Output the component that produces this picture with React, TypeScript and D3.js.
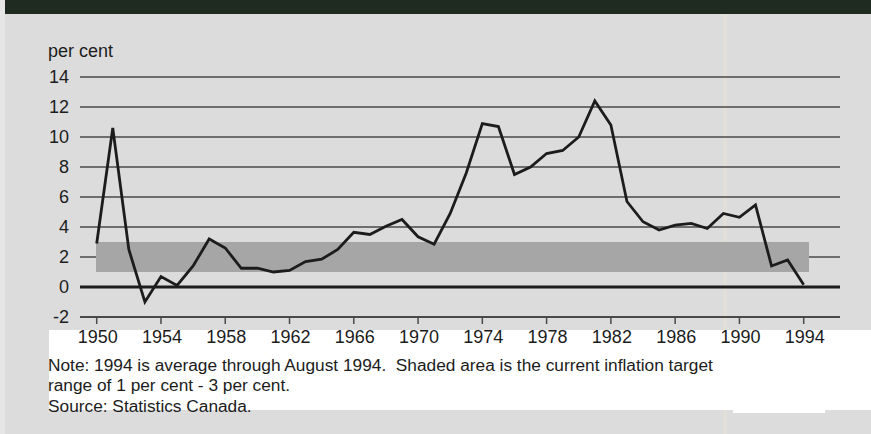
import React from "react";
import * as d3 from "d3";

const years = [
  1950, 1951, 1952, 1953, 1954, 1955, 1956, 1957, 1958, 1959, 1960, 1961,
  1962, 1963, 1964, 1965, 1966, 1967, 1968, 1969, 1970, 1971, 1972, 1973,
  1974, 1975, 1976, 1977, 1978, 1979, 1980, 1981, 1982, 1983, 1984, 1985,
  1986, 1987, 1988, 1989, 1990, 1991, 1992, 1993, 1994,
];
const inflation = [
  2.9, 10.6, 2.5, -1.0, 0.7, 0.1, 1.4, 3.2, 2.6, 1.25, 1.25, 1.0,
  1.1, 1.7, 1.85, 2.5, 3.65, 3.5, 4.05, 4.5, 3.35, 2.85, 4.9, 7.6,
  10.9, 10.7, 7.5, 8.0, 8.9, 9.1, 10.0, 12.4, 10.8, 5.7, 4.35, 3.8,
  4.13, 4.24, 3.9, 4.9, 4.65, 5.47, 1.4, 1.8, 0.15,
];
const yTicks = [-2, 0, 2, 4, 6, 8, 10, 12, 14];
const xTicks = [1950, 1954, 1958, 1962, 1966, 1970, 1974, 1978, 1982, 1986, 1990, 1994];
const targetRange = [1, 3];
const unitLabel = "per cent";
const noteLines = [
  "Note: 1994 is average through August 1994.  Shaded area is the current inflation target",
  "range of 1 per cent - 3 per cent.",
  "Source: Statistics Canada.",
];

const W = 871;
const H = 434;
const FONT = "'Liberation Sans', Arial, Helvetica, sans-serif";
const INK = "#1c1c1c";

export default function App() {
  const x = d3.scaleLinear().domain([1950, 1994]).range([96.7, 803.7]);
  const y = d3.scaleLinear().domain([-2, 14]).range([317, 77]);
  const gridX0 = 80;
  const gridX1 = 840;

  const line = d3
    .line<number>()
    .x((_, i) => x(years[i]))
    .y((d) => y(d));

  return (
    <div style={{ position: "absolute", left: 0, top: 0 }}>
      <svg width={W} height={H} style={{ display: "block" }} fontFamily={FONT}>
        {/* paper background */}
        <rect x={0} y={0} width={W} height={H} fill="#dcdcdc" />
        <rect x={0} y={0} width={5} height={H} fill="#e6e6e6" />
        {/* faint scan stripe */}
        <rect x={723} y={14} width={4} height={H} fill="#e6e2d2" opacity={0.45} />
        {/* top dark band */}
        <rect x={5} y={0} width={W - 5} height={14} fill="#1f2a21" />

        {/* gridlines */}
        {yTicks
          .filter((t) => t !== 0)
          .map((t) => (
            <line
              key={t}
              x1={gridX0}
              x2={gridX1}
              y1={y(t)}
              y2={y(t)}
              stroke="#4a4a4a"
              strokeWidth={t === -2 ? 1.8 : 1.3}
            />
          ))}

        {/* target band */}
        <rect
          x={x(1950) - 0.7}
          y={y(targetRange[1])}
          width={x(1994) + 5.3 - x(1950) + 0.7}
          height={y(targetRange[0]) - y(targetRange[1])}
          fill="#a6a6a6"
        />

        {/* zero line */}
        <line x1={gridX0} x2={gridX1} y1={y(0)} y2={y(0)} stroke={INK} strokeWidth={3} />

        {/* x ticks */}
        {xTicks.map((t) => (
          <line key={t} x1={x(t)} x2={x(t)} y1={y(-2)} y2={y(-2) + 7} stroke="#4a4a4a" strokeWidth={1.5} />
        ))}

        {/* y labels */}
        {yTicks.map((t) => (
          <text key={t} x={69} y={y(t) + 6.3} textAnchor="end" fontSize={18} fill={INK}>
            {t}
          </text>
        ))}
        <text x={48} y={57} fontSize={18} fill={INK}>
          {unitLabel}
        </text>

        {/* data line */}
        <path d={line(inflation) || ""} fill="none" stroke={INK} strokeWidth={2.8} strokeLinejoin="miter" />

        {/* white label box */}
        <rect x={49} y={330} width={W - 49} height={80} fill="#ffffff" />
        <rect x={733} y={409} width={92} height={4} fill="#ffffff" />

        {/* x labels */}
        {xTicks.map((t) => (
          <text key={t} x={x(t) + 1} y={343} textAnchor="middle" fontSize={18} fill={INK}>
            {t}
          </text>
        ))}

        {/* notes */}
        <text x={48} y={371} fontSize={17.3} fill={INK} style={{ whiteSpace: "pre" }}>
          {noteLines[0]}
        </text>
        <text x={48} y={390.5} fontSize={17.3} fill={INK}>
          {noteLines[1]}
        </text>
        <text x={48} y={412} fontSize={17.3} fill={INK}>
          {noteLines[2]}
        </text>
      </svg>
    </div>
  );
}
